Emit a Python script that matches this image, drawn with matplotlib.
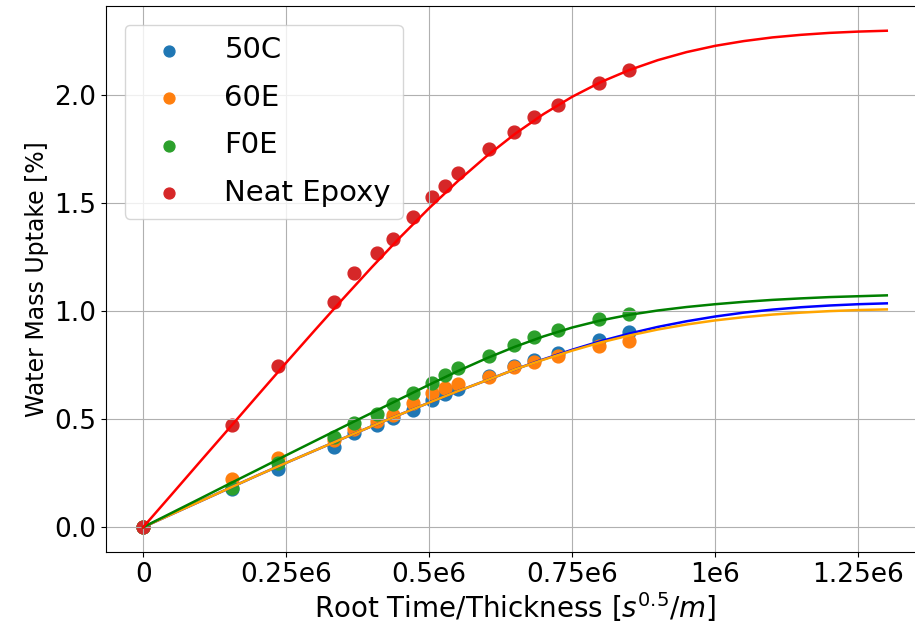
import numpy as np
import matplotlib
matplotlib.use('Agg')
import matplotlib.pyplot as plt

# measured points (root time / thickness)
x_pts = np.array([0, 0.156, 0.236, 0.334, 0.369, 0.409, 0.437, 0.472, 0.505,
                  0.528, 0.551, 0.605, 0.649, 0.684, 0.726, 0.797, 0.850]) * 1e6

# water mass uptake [%]
m_50c = [0, 0.175, 0.27, 0.37, 0.435, 0.472, 0.505, 0.542, 0.588,
         0.616, 0.639, 0.70, 0.745, 0.775, 0.806, 0.866, 0.903]
m_60e = [0, 0.222, 0.319, 0.405, 0.455, 0.49, 0.519, 0.574, 0.620,
         0.644, 0.662, 0.694, 0.741, 0.764, 0.792, 0.838, 0.861]
m_f0e = [0, 0.183, 0.298, 0.417, 0.481, 0.523, 0.569, 0.620, 0.667,
         0.704, 0.736, 0.792, 0.843, 0.880, 0.912, 0.963, 0.986]
m_neat = [0, 0.472, 0.745, 1.042, 1.176, 1.269, 1.333, 1.435, 1.528,
          1.579, 1.639, 1.750, 1.833, 1.898, 1.958, 2.056, 2.116]

x_fit = np.arange(0, 27) * 0.05e6
fit_50c = [0, 0.06, 0.12, 0.18, 0.24, 0.298, 0.355, 0.412, 0.468, 0.523,
           0.577, 0.63, 0.68, 0.731, 0.778, 0.822, 0.862, 0.897, 0.928,
           0.954, 0.976, 0.994, 1.008, 1.019, 1.027, 1.033, 1.037]
fit_60e = [0, 0.06, 0.12, 0.18, 0.24, 0.298, 0.355, 0.412, 0.468, 0.523,
           0.577, 0.63, 0.68, 0.731, 0.776, 0.818, 0.856, 0.888, 0.916,
           0.939, 0.958, 0.973, 0.985, 0.994, 1.001, 1.006, 1.009]
fit_f0e = [0, 0.0665, 0.133, 0.2, 0.266, 0.333, 0.399, 0.465, 0.53, 0.595,
           0.66, 0.723, 0.782, 0.836, 0.884, 0.925, 0.958, 0.984, 1.004,
           1.02, 1.033, 1.044, 1.053, 1.06, 1.066, 1.07, 1.074]
fit_neat = [0, 0.152, 0.305, 0.457, 0.61, 0.762, 0.912, 1.06, 1.205, 1.345,
            1.478, 1.603, 1.718, 1.822, 1.914, 1.994, 2.062, 2.118, 2.164,
            2.201, 2.230, 2.252, 2.269, 2.281, 2.290, 2.296, 2.300]

xticks = [0, 0.25e6, 0.5e6, 0.75e6, 1e6, 1.25e6]
xtick_labels = ['0', '0.25e6', '0.5e6', '0.75e6', '1e6', '1.25e6']

fig = plt.figure(figsize=(9.15, 6.35), dpi=100)
ax = fig.add_axes([0.1158, 0.1307, 0.894, 0.86])

ax.scatter(x_pts, m_50c, s=85, color='tab:blue', label='50C')
ax.scatter(x_pts, m_60e, s=85, color='tab:orange', label='60E')
ax.scatter(x_pts, m_f0e, s=85, color='tab:green', label='F0E')
ax.scatter(x_pts, m_neat, s=85, color='tab:red', label='Neat Epoxy')

ax.plot(x_fit, fit_50c, color='blue', lw=1.8)
ax.plot(x_fit, fit_60e, color='orange', lw=1.8)
ax.plot(x_fit, fit_f0e, color='green', lw=1.8)
ax.plot(x_fit, fit_neat, color='red', lw=1.8)

ax.set_xticks(xticks)
ax.set_xticklabels(xtick_labels)
ax.tick_params(labelsize=19)
ax.set_xlabel('Root Time/Thickness [$s^{0.5}/m$]', fontsize=20, labelpad=2)
ax.set_ylabel('Water Mass Uptake [%]', fontsize=17)
ax.grid(True)
ax.legend(loc='upper left', fontsize=21, markerscale=0.85, handlelength=2.27,
          handletextpad=0.75, labelspacing=0.67, borderaxespad=0.64)

plt.savefig('out.png', dpi=100)
